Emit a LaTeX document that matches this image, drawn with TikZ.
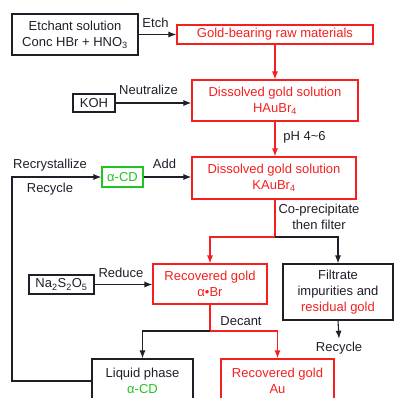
\documentclass[tikz,border=0pt]{standalone}
\usepackage{fontspec}
\setmainfont{Liberation Sans}
\definecolor{fcRed}{HTML}{F51F1F}
\definecolor{fcGreen}{HTML}{22C422}
\definecolor{fcText}{HTML}{1F1F2A}
\usepackage{tikz}
\usetikzlibrary{arrows.meta}

\tikzset{
  box/.style={draw=fcText, line width=1.1pt, text=fcText, align=center, inner sep=0pt},
  redbox/.style={box, draw=fcRed, text=fcRed},
  greenbox/.style={box, draw=fcGreen, text=fcGreen},
  lbl/.style={text=fcText, align=center, inner sep=0pt},
  arr/.style={line width=1.1pt, color=fcText, -{Latex[length=8pt,width=6pt]}},
  redarr/.style={arr, color=fcRed},
}

\begin{document}
\begin{tikzpicture}[x=1pt, y=-1pt, font=\fontsize{13}{16}\selectfont]
  \useasboundingbox (0,0) rectangle (395,398);
  \clip (0,0) rectangle (395,398);

  % Etching
  \node[box, minimum width=126pt, minimum height=41pt] (etchant) at (75,34.5) {Etchant solution\\Conc HBr + HNO\textsubscript{3}};
  \node[redbox, minimum width=196pt, minimum height=19pt] (raw) at (275,34.5) {Gold-bearing raw materials};
  \node[lbl] (etchlbl) at (155.5,22.5) {Etch};

  % Neutralize
  \node[box, minimum width=42pt, minimum height=18pt] (koh) at (94,103) {KOH};
  \node[redbox, minimum width=166pt, minimum height=41pt] (hau) at (275,100.5) {Dissolved gold solution\\HAuBr\textsubscript{4}};
  \node[lbl] (neutlbl) at (148.5,89.5) {Neutralize};
  \node[lbl] (phlbl) at (304.5,137) {pH 4\textasciitilde 6};

  % Add alpha-CD
  \node[greenbox, minimum width=41pt, minimum height=20pt] (acd) at (122.5,177) {α-CD};
  \node[redbox, minimum width=164pt, minimum height=42pt] (kau) at (274,178) {Dissolved gold solution\\KAuBr\textsubscript{4}};
  \node[lbl] (addlbl) at (164.5,163.5) {Add};
  \node[lbl] (recrylbl) at (50,165) {Recrystallize};
  \node[lbl] (recyclbl) at (50,189) {Recycle};
  \node[lbl] (coplbl) at (319,217) {Co-precipitate\\then filter};

  % Reduce and filtrate
  \node[box, minimum width=65pt, minimum height=19pt] (na) at (61.5,284.5) {Na\textsubscript{2}S\textsubscript{2}O\textsubscript{5}};
  \node[redbox, minimum width=114pt, minimum height=40pt] (recau) at (210,284) {Recovered gold\\α•Br};
  \node[box, minimum width=110pt, minimum height=56pt] (filt) at (338,292) {Filtrate\\impurities and\\{\color{fcRed}residual gold}};
  \node[lbl] (redlbl) at (121,273) {Reduce};
  \node[lbl, inner sep=3pt] (rec2) at (339,348) {Recycle};
  \node[lbl] (declbl) at (241,321) {Decant};

  % Products
  \node[box, minimum width=101pt, minimum height=44pt] (liq) at (142.5,381) {Liquid phase\\{\color{fcGreen}α-CD}};
  \node[redbox, minimum width=113pt, minimum height=44pt] (au) at (277.5,381) {Recovered gold\\Au};

  \coordinate (split1) at (275,237);
  \coordinate (split2) at (210,331);
  \coordinate (loop) at (12,381);

  % Arrows
  \draw[arr] (etchant.east) -- (raw.west);
  \draw[redarr] (raw.south) -- (raw.south |- hau.north);
  \draw[arr] (koh.east) -- (koh.east -| hau.west);
  \draw[redarr] (hau.south) -- (hau.south |- kau.north);
  \draw[arr] (acd.east) -- (acd.east -| kau.west);
  \draw[redarr] (split1 |- kau.south) -- (split1) -| (recau.north);
  \draw[arr] (split1) -| (filt.north);
  \draw[arr] (na.east) -- (na.east -| recau.west);
  \draw[arr] (filt.south) -- (rec2.north);
  \draw[redarr] (recau.south) -- (split2) -| (au.north);
  \draw[arr] (split2) -| (liq.north);
  \draw[arr] (liq.west) -- (loop) |- (acd.west);
\end{tikzpicture}
\end{document}
